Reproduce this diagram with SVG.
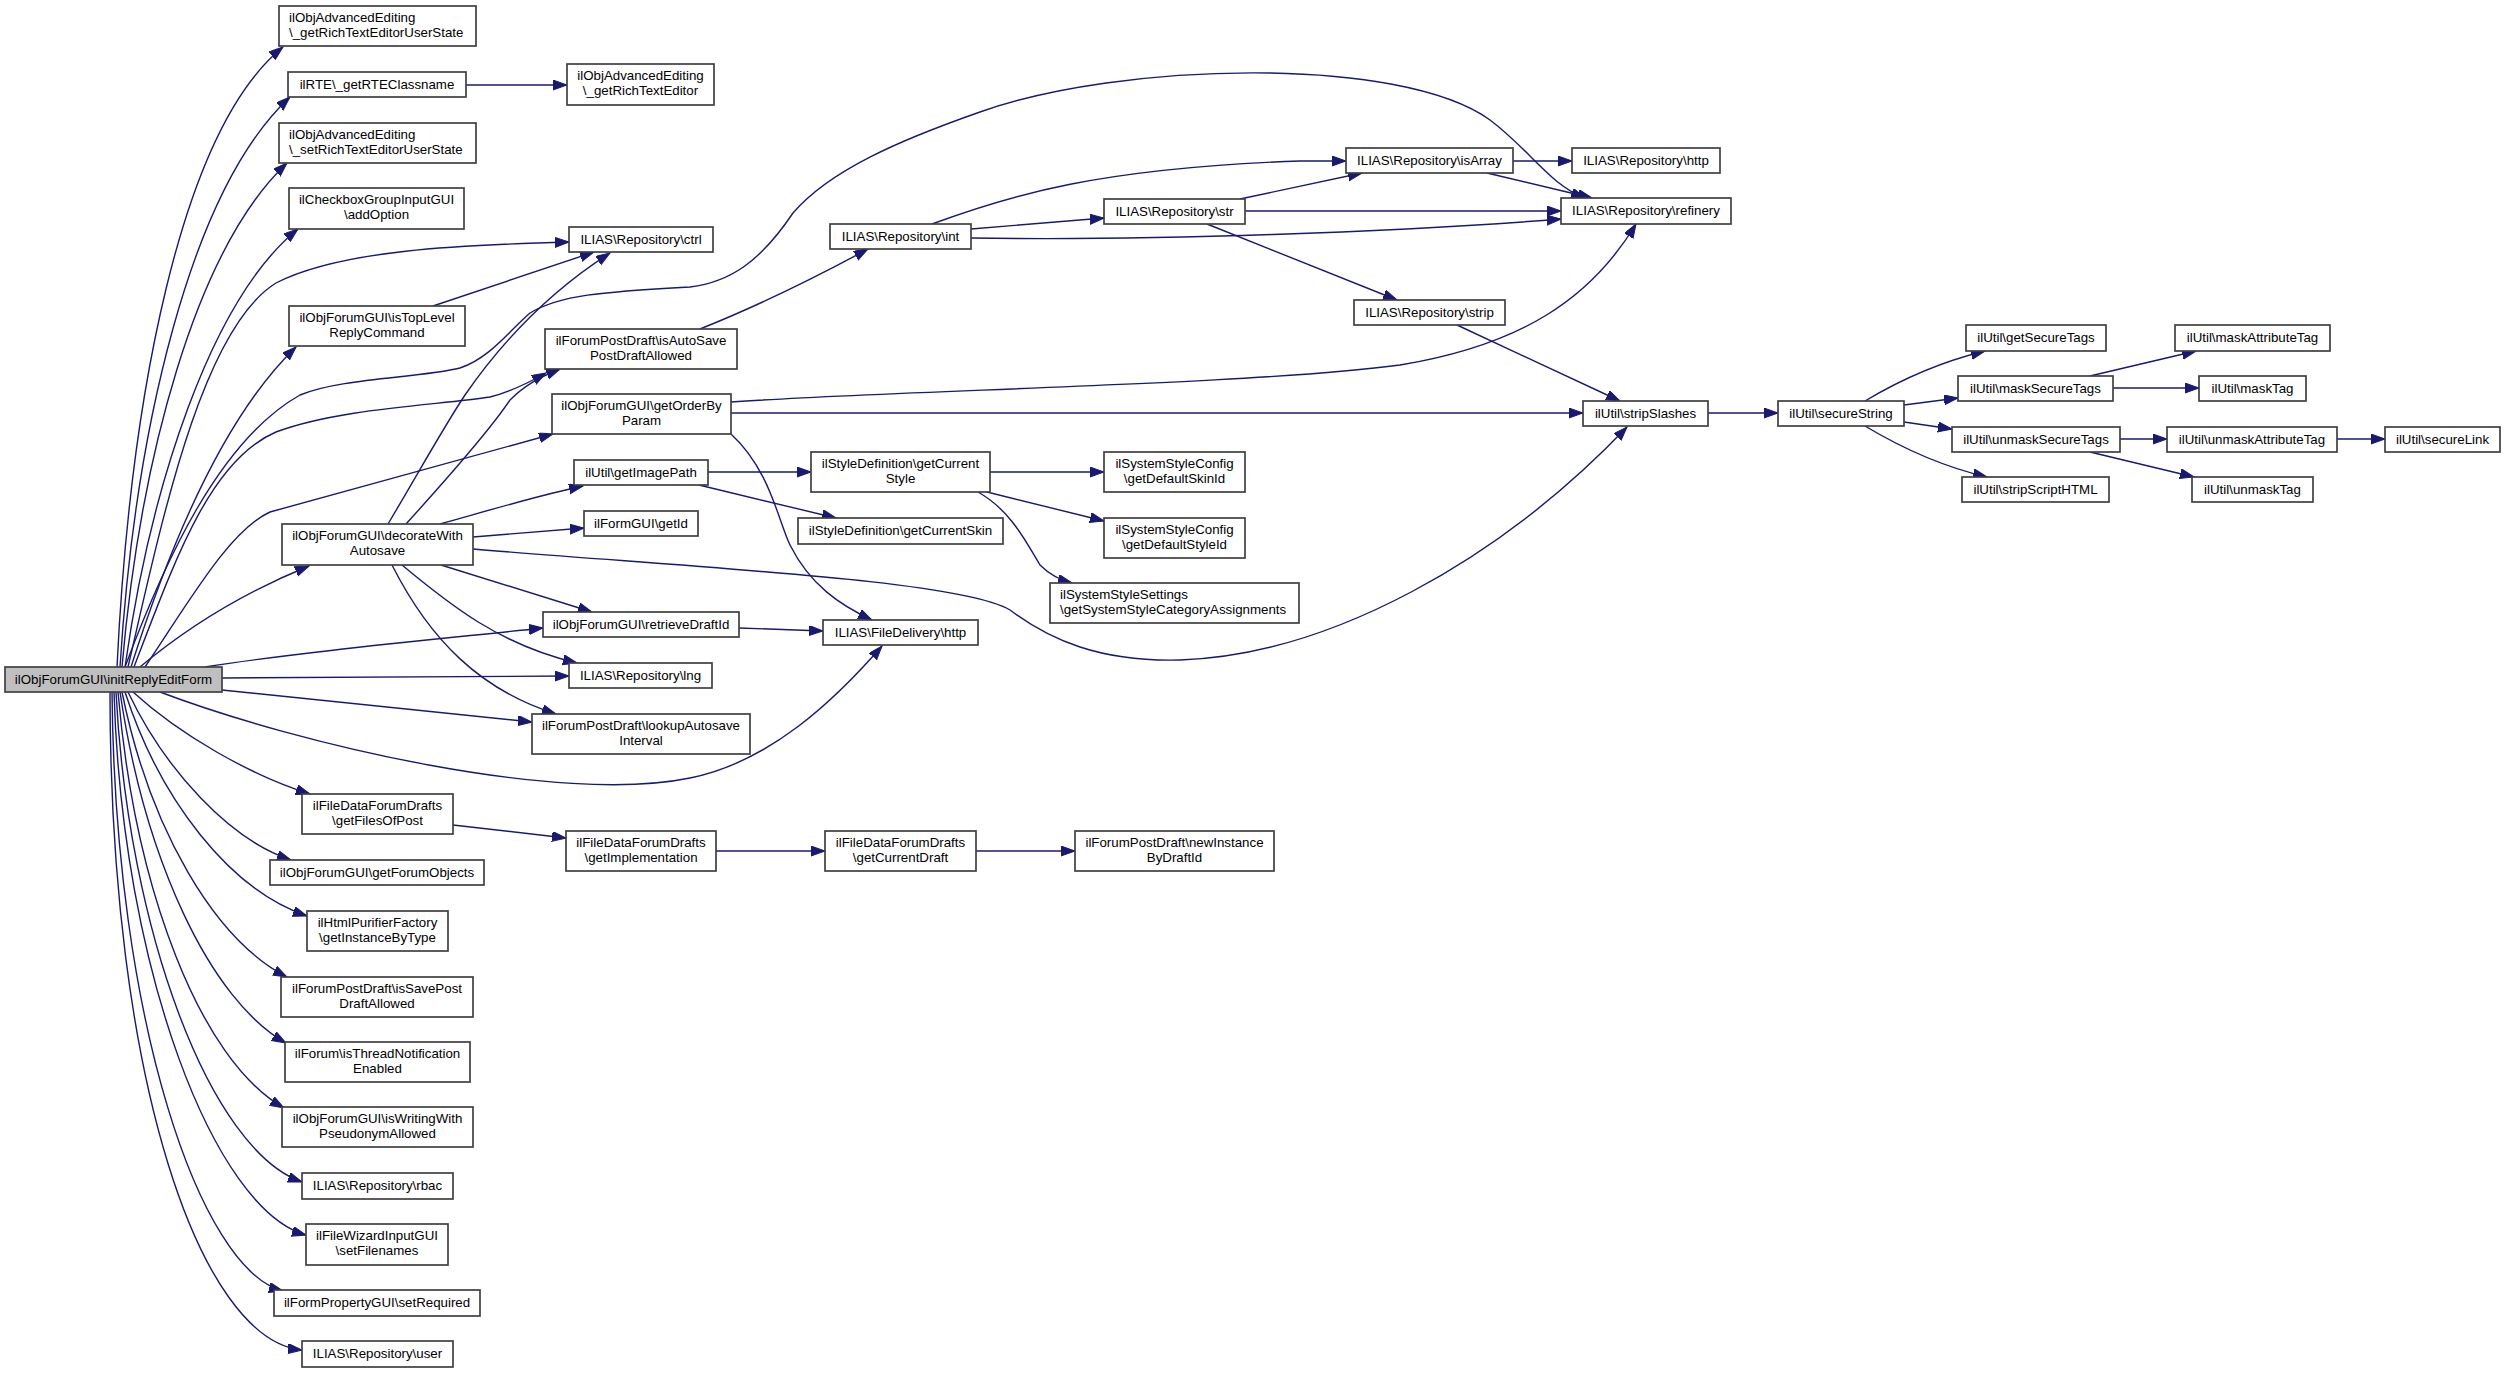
<svg xmlns="http://www.w3.org/2000/svg" width="2505" height="1373" viewBox="0 0 2505 1373">
<style>
.n rect{fill:#fff;stroke:#404040;stroke-width:1.7}
.root rect{fill:#bfbfbf}
text{font-family:"Liberation Sans",Arial,Helvetica,sans-serif;font-size:13.3px;fill:#000}
.c{text-anchor:middle}
.e path{fill:none;stroke:#191970;stroke-width:1.4;marker-end:url(#a)}
</style>
<defs>
<marker id="a" markerUnits="userSpaceOnUse" markerWidth="16" markerHeight="12" refX="14" refY="5" orient="auto"><path d="M0,0 L14,5 L0,10 z" fill="#191970" stroke="#191970" stroke-width="1"/></marker>
</defs>
<rect width="2505" height="1373" fill="#fff"/>
<g id="connectors" class="e">
<path d="M117,667 C130,400 180,130 283,47"/>
<path d="M120,667 C135,430 190,190 290,97"/>
<path d="M122,667 C140,460 195,250 287,163"/>
<path d="M125,667 C150,490 210,300 298,229"/>
<path d="M128,667 C160,530 200,330 276,283 C340,250 460,245 569,242"/>
<path d="M131,667 C165,560 220,420 296,347"/>
<path d="M134,667 C175,560 210,460 276,432 C340,408 440,405 490,397 C510,392 530,382 546,373"/>
<path d="M145,667 C190,600 230,530 270,512 L553,434"/>
<path d="M125,667 C165,560 220,440 300,395 C340,378 420,378 460,368 C490,358 510,330 530,313 C560,295 600,292 690,287 C730,282 760,262 793,213 C830,170 900,140 980,112 C1120,62 1400,55 1490,120 C1530,150 1550,185 1585,198"/>
<path d="M140,667 C190,625 250,590 309,566"/>
<path d="M205,667 C300,652 430,640 543,628"/>
<path d="M222,678 L569,676"/>
<path d="M222,690 L532,722"/>
<path d="M160,692 C300,745 560,805 690,778 C770,762 835,700 882,646"/>
<path d="M133,692 C180,735 250,775 310,794"/>
<path d="M128,692 C165,770 230,840 291,860"/>
<path d="M125,692 C160,800 230,890 307,916"/>
<path d="M122,692 C150,830 215,940 287,977"/>
<path d="M120,692 C145,860 210,1000 286,1043"/>
<path d="M118,692 C135,890 200,1060 284,1108"/>
<path d="M116,692 C128,930 210,1150 302,1182"/>
<path d="M114,692 C122,970 215,1210 306,1235"/>
<path d="M112,692 C115,1020 200,1270 283,1291"/>
<path d="M110,692 C110,1080 200,1340 302,1350"/>
<path d="M388,524 C420,470 445,425 465,395 C510,330 560,285 610,253"/>
<path d="M406,524 C455,470 490,430 510,400 C525,385 540,377 560,369"/>
<path d="M440,524 C490,510 540,495 583,486"/>
<path d="M473,537 L584,528"/>
<path d="M473,549 C700,568 960,580 1010,610 C1050,640 1100,662 1180,660 C1330,655 1500,560 1627,427"/>
<path d="M441,565 L592,612"/>
<path d="M402,565 C450,605 500,645 577,663"/>
<path d="M392,565 C430,640 480,690 556,714"/>
<path d="M731,402 C900,390 1250,385 1400,365 C1520,345 1590,300 1636,224"/>
<path d="M731,413 L1583,413"/>
<path d="M731,434 C770,470 778,520 790,545 C810,585 840,605 872,620"/>
<path d="M700,329 C760,305 820,275 868,249"/>
<path d="M433,306 L594,252"/>
<path d="M466,85 L567,85"/>
<path d="M708,472 L811,472"/>
<path d="M699,485 L836,518"/>
<path d="M990,472 L1104,472"/>
<path d="M987,492 L1104,521"/>
<path d="M978,492 C1010,510 1025,540 1040,565 C1050,575 1060,580 1072,583"/>
<path d="M739,628 L823,631"/>
<path d="M453,825 L566,838"/>
<path d="M716,851 L825,851"/>
<path d="M976,851 L1075,851"/>
<path d="M932,224 C1010,195 1100,168 1300,161 L1346,161"/>
<path d="M971,229 L1104,218"/>
<path d="M971,238 C1150,241 1400,232 1561,219"/>
<path d="M1240,199 L1362,173"/>
<path d="M1245,211 L1561,211"/>
<path d="M1207,224 L1397,300"/>
<path d="M1513,161 L1572,161"/>
<path d="M1487,173 L1592,198"/>
<path d="M1457,325 L1620,401"/>
<path d="M1708,413 L1778,413"/>
<path d="M1865,401 C1900,380 1940,362 1985,351"/>
<path d="M1904,405 L1958,398"/>
<path d="M1904,422 L1952,429"/>
<path d="M1865,426 C1900,447 1940,466 1987,477"/>
<path d="M2090,376 L2196,351"/>
<path d="M2113,388 L2199,388"/>
<path d="M2120,439 L2167,439"/>
<path d="M2090,452 L2194,477"/>
<path d="M2337,439 L2385,439"/>
</g>
<g id="n_init" class="n root"><rect x="5" y="667" width="217" height="25"/><text class="c" x="113.5" y="684">ilObjForumGUI\initReplyEditForm</text></g>
<g id="n_a1" class="n"><rect x="279" y="6" width="197" height="40"/><text x="289" y="22">ilObjAdvancedEditing</text><text x="289" y="37">\_getRichTextEditorUserState</text></g>
<g id="n_rte" class="n"><rect x="288" y="72" width="178" height="25"/><text class="c" x="377" y="89">ilRTE\_getRTEClassname</text></g>
<g id="n_rteed" class="n"><rect x="567" y="64" width="147" height="41"/><text class="c" x="640.5" y="80">ilObjAdvancedEditing</text><text class="c" x="640.5" y="95">\_getRichTextEditor</text></g>
<g id="n_a3" class="n"><rect x="279" y="123" width="197" height="40"/><text x="289" y="139">ilObjAdvancedEditing</text><text x="289" y="154">\_setRichTextEditorUserState</text></g>
<g id="n_addoption" class="n"><rect x="289" y="188" width="175" height="41"/><text class="c" x="376.5" y="204">ilCheckboxGroupInputGUI</text><text class="c" x="376.5" y="219">\addOption</text></g>
<g id="n_ctrl" class="n"><rect x="569" y="227" width="144" height="25"/><text class="c" x="641" y="244">ILIAS\Repository\ctrl</text></g>
<g id="n_istop" class="n"><rect x="289" y="306" width="176" height="40"/><text class="c" x="377" y="322">ilObjForumGUI\isTopLevel</text><text class="c" x="377" y="337">ReplyCommand</text></g>
<g id="n_isauto" class="n"><rect x="545" y="329" width="192" height="40"/><text class="c" x="641" y="345">ilForumPostDraft\isAutoSave</text><text class="c" x="641" y="360">PostDraftAllowed</text></g>
<g id="n_getorder" class="n"><rect x="552" y="394" width="179" height="40"/><text class="c" x="641.5" y="410">ilObjForumGUI\getOrderBy</text><text class="c" x="641.5" y="425">Param</text></g>
<g id="n_getimagepath" class="n"><rect x="574" y="460" width="134" height="25"/><text class="c" x="641" y="477">ilUtil\getImagePath</text></g>
<g id="n_decorate" class="n"><rect x="282" y="524" width="191" height="41"/><text class="c" x="377.5" y="540">ilObjForumGUI\decorateWith</text><text class="c" x="377.5" y="555">Autosave</text></g>
<g id="n_getid" class="n"><rect x="584" y="511" width="114" height="25"/><text class="c" x="641" y="528">ilFormGUI\getId</text></g>
<g id="n_retrieve" class="n"><rect x="543" y="612" width="196" height="25"/><text class="c" x="641" y="629">ilObjForumGUI\retrieveDraftId</text></g>
<g id="n_lng" class="n"><rect x="569" y="663" width="143" height="25"/><text class="c" x="640.5" y="680">ILIAS\Repository\lng</text></g>
<g id="n_lookup" class="n"><rect x="532" y="714" width="218" height="40"/><text class="c" x="641" y="730">ilForumPostDraft\lookupAutosave</text><text class="c" x="641" y="745">Interval</text></g>
<g id="n_getfilesofpost" class="n"><rect x="302" y="794" width="151" height="40"/><text class="c" x="377.5" y="810">ilFileDataForumDrafts</text><text class="c" x="377.5" y="825">\getFilesOfPost</text></g>
<g id="n_getimpl" class="n"><rect x="566" y="831" width="150" height="40"/><text class="c" x="641" y="847">ilFileDataForumDrafts</text><text class="c" x="641" y="862">\getImplementation</text></g>
<g id="n_getforumobjects" class="n"><rect x="270" y="860" width="214" height="25"/><text class="c" x="377" y="877">ilObjForumGUI\getForumObjects</text></g>
<g id="n_getinstance" class="n"><rect x="307" y="911" width="141" height="40"/><text class="c" x="377.5" y="927">ilHtmlPurifierFactory</text><text class="c" x="377.5" y="942">\getInstanceByType</text></g>
<g id="n_issave" class="n"><rect x="281" y="977" width="192" height="40"/><text class="c" x="377" y="993">ilForumPostDraft\isSavePost</text><text class="c" x="377" y="1008">DraftAllowed</text></g>
<g id="n_isthread" class="n"><rect x="285" y="1042" width="185" height="40"/><text class="c" x="377.5" y="1058">ilForum\isThreadNotification</text><text class="c" x="377.5" y="1073">Enabled</text></g>
<g id="n_iswriting" class="n"><rect x="282" y="1107" width="191" height="40"/><text class="c" x="377.5" y="1123">ilObjForumGUI\isWritingWith</text><text class="c" x="377.5" y="1138">PseudonymAllowed</text></g>
<g id="n_rbac" class="n"><rect x="302" y="1173" width="151" height="26"/><text class="c" x="377.5" y="1190">ILIAS\Repository\rbac</text></g>
<g id="n_setfilenames" class="n"><rect x="306" y="1224" width="142" height="41"/><text class="c" x="377" y="1240">ilFileWizardInputGUI</text><text class="c" x="377" y="1255">\setFilenames</text></g>
<g id="n_setrequired" class="n"><rect x="274" y="1290" width="206" height="26"/><text class="c" x="377" y="1307">ilFormPropertyGUI\setRequired</text></g>
<g id="n_user" class="n"><rect x="302" y="1341" width="151" height="26"/><text class="c" x="377.5" y="1358">ILIAS\Repository\user</text></g>
<g id="n_int" class="n"><rect x="830" y="224" width="141" height="25"/><text class="c" x="900.5" y="241">ILIAS\Repository\int</text></g>
<g id="n_str" class="n"><rect x="1104" y="199" width="141" height="25"/><text class="c" x="1174.5" y="216">ILIAS\Repository\str</text></g>
<g id="n_isarray" class="n"><rect x="1346" y="148" width="167" height="25"/><text class="c" x="1429.5" y="165">ILIAS\Repository\isArray</text></g>
<g id="n_http" class="n"><rect x="1572" y="148" width="148" height="25"/><text class="c" x="1646" y="165">ILIAS\Repository\http</text></g>
<g id="n_refinery" class="n"><rect x="1561" y="198" width="170" height="26"/><text class="c" x="1646" y="215">ILIAS\Repository\refinery</text></g>
<g id="n_strip" class="n"><rect x="1354" y="300" width="151" height="25"/><text class="c" x="1429.5" y="317">ILIAS\Repository\strip</text></g>
<g id="n_stripslashes" class="n"><rect x="1583" y="401" width="125" height="25"/><text class="c" x="1645.5" y="418">ilUtil\stripSlashes</text></g>
<g id="n_getcurrentstyle" class="n"><rect x="811" y="452" width="179" height="40"/><text class="c" x="900.5" y="468">ilStyleDefinition\getCurrent</text><text class="c" x="900.5" y="483">Style</text></g>
<g id="n_getdefaultskinid" class="n"><rect x="1104" y="452" width="141" height="40"/><text class="c" x="1174.5" y="468">ilSystemStyleConfig</text><text class="c" x="1174.5" y="483">\getDefaultSkinId</text></g>
<g id="n_getcurrentskin" class="n"><rect x="798" y="518" width="205" height="26"/><text class="c" x="900.5" y="535">ilStyleDefinition\getCurrentSkin</text></g>
<g id="n_getdefaultstyleid" class="n"><rect x="1104" y="518" width="141" height="40"/><text class="c" x="1174.5" y="534">ilSystemStyleConfig</text><text class="c" x="1174.5" y="549">\getDefaultStyleId</text></g>
<g id="n_getsyscat" class="n"><rect x="1050" y="583" width="249" height="40"/><text x="1060" y="599">ilSystemStyleSettings</text><text x="1060" y="614">\getSystemStyleCategoryAssignments</text></g>
<g id="n_fdhttp" class="n"><rect x="823" y="620" width="155" height="25"/><text class="c" x="900.5" y="637">ILIAS\FileDelivery\http</text></g>
<g id="n_getcurrentdraft" class="n"><rect x="825" y="831" width="151" height="40"/><text class="c" x="900.5" y="847">ilFileDataForumDrafts</text><text class="c" x="900.5" y="862">\getCurrentDraft</text></g>
<g id="n_newinstance" class="n"><rect x="1075" y="831" width="199" height="40"/><text class="c" x="1174.5" y="847">ilForumPostDraft\newInstance</text><text class="c" x="1174.5" y="862">ByDraftId</text></g>
<g id="n_securestring" class="n"><rect x="1778" y="401" width="126" height="25"/><text class="c" x="1841" y="418">ilUtil\secureString</text></g>
<g id="n_getsecuretags" class="n"><rect x="1966" y="325" width="140" height="26"/><text class="c" x="2036" y="342">ilUtil\getSecureTags</text></g>
<g id="n_masksecuretags" class="n"><rect x="1958" y="376" width="155" height="25"/><text class="c" x="2035.5" y="393">ilUtil\maskSecureTags</text></g>
<g id="n_unmasksecuretags" class="n"><rect x="1952" y="427" width="168" height="25"/><text class="c" x="2036" y="444">ilUtil\unmaskSecureTags</text></g>
<g id="n_stripscripthtml" class="n"><rect x="1962" y="477" width="147" height="25"/><text class="c" x="2035.5" y="494">ilUtil\stripScriptHTML</text></g>
<g id="n_maskattributetag" class="n"><rect x="2175" y="325" width="155" height="26"/><text class="c" x="2252.5" y="342">ilUtil\maskAttributeTag</text></g>
<g id="n_masktag" class="n"><rect x="2199" y="376" width="107" height="25"/><text class="c" x="2252.5" y="393">ilUtil\maskTag</text></g>
<g id="n_unmaskattributetag" class="n"><rect x="2167" y="427" width="170" height="25"/><text class="c" x="2252" y="444">ilUtil\unmaskAttributeTag</text></g>
<g id="n_unmasktag" class="n"><rect x="2192" y="477" width="121" height="25"/><text class="c" x="2252.5" y="494">ilUtil\unmaskTag</text></g>
<g id="n_securelink" class="n"><rect x="2385" y="427" width="115" height="25"/><text class="c" x="2442.5" y="444">ilUtil\secureLink</text></g>
</svg>
